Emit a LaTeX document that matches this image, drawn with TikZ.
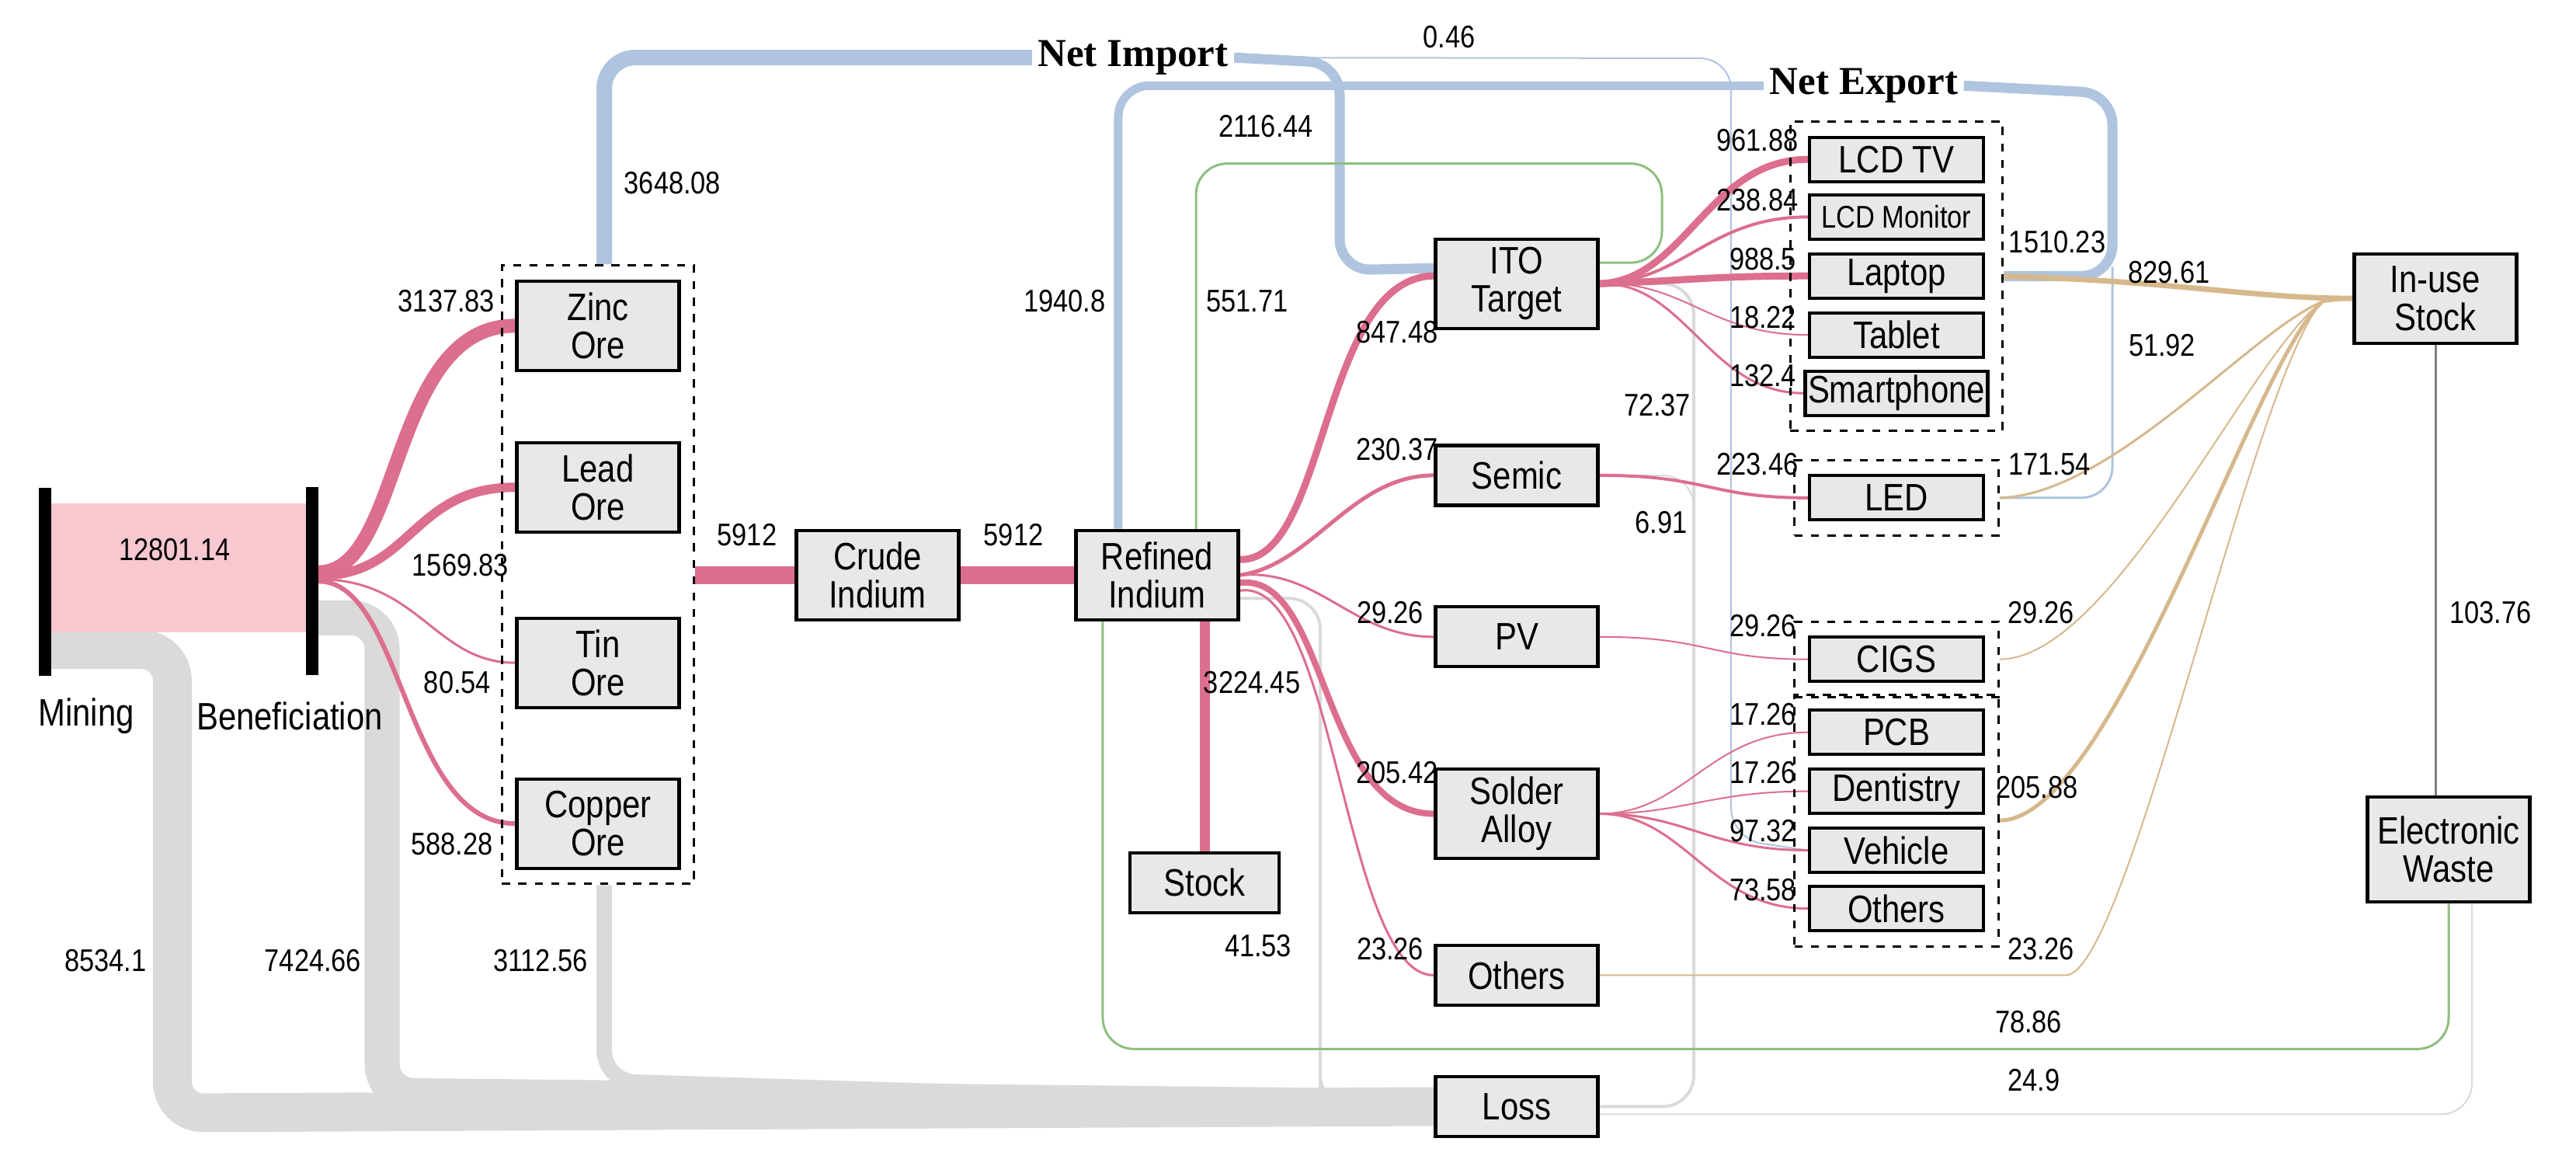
\documentclass[tikz,border=0pt]{standalone}
\usepackage{fontspec}
\setmainfont{Liberation Sans}[FakeStretch=0.85]
\newfontfamily\titlefont{Liberation Serif}
\usetikzlibrary{fit,backgrounds}
\definecolor{pk}{HTML}{DC6E8E}
\definecolor{pkfill}{HTML}{F7C8D0}
\definecolor{bl}{HTML}{AFC4DE}
\definecolor{gn}{HTML}{8DBF7F}
\definecolor{tn}{HTML}{D6B88C}
\definecolor{ls}{HTML}{DADADA}
\definecolor{boxgray}{HTML}{E8E8E8}
\tikzset{
  box/.style={draw, line width=1.2pt, fill=boxgray, minimum width=2.09cm, minimum height=0.77cm, align=center, font=\fontsize{14}{14}\selectfont, inner sep=1pt},
  ore/.style={box, minimum height=1.15cm},
  prod/.style={box, minimum width=2.24cm, minimum height=0.57cm},
  grp/.style={draw, dashed, line width=0.9pt, inner xsep=0.17cm, inner ysep=0.18cm},
  bar/.style={fill=black, minimum width=0.15cm, minimum height=2.42cm, inner sep=0pt},
  num/.style={font=\fontsize{11.5}{12}\selectfont, inner sep=1pt},
  lbl/.style={font=\fontsize{14}{15}\selectfont},
  ttl/.style={font=\titlefont\bfseries\fontsize{14.5}{15}\selectfont, inner sep=2pt},
  pflow/.style={draw=pk},
  bflow/.style={draw=bl, rounded corners=0.4cm},
  gflow/.style={draw=gn, line width=0.03cm, rounded corners=0.4cm},
  tflow/.style={draw=tn},
  lflow/.style={draw=ls, rounded corners=0.4cm}
}
\begin{document}
\begin{tikzpicture}[x=0.01cm, y=-0.00904cm]
  \useasboundingbox (0,0) rectangle (3317,1660);

  % stages
  \node[bar] (mine) at (58,829) {};
  \node[bar] (bene) at (402,828) {};
  \node[lbl] (minelbl) at (111,1020) {Mining};
  \node[lbl] (benelbl) at (373,1020) {Beneficiation};

  \node[ore] (zinc) at (770,464) {Zinc\\Ore};
  \node[ore] (lead) at (770,694) {Lead\\Ore};
  \node[ore] (tin) at (770,944) {Tin\\Ore};
  \node[ore] (copper) at (770,1173) {Copper\\Ore};
  \node[grp, fit=(zinc)(copper)] (ogrp) {};

  \node[ore] (crude) at (1130,819) {Crude\\Indium};
  \node[ore] (refined) at (1490,819) {Refined\\Indium};
  \node[box, minimum width=1.92cm] (stock) at (1551,1257) {Stock};

  \node[ore] (ito) at (1953,404) {ITO\\Target};
  \node[box] (semic) at (1953,677) {Semic};
  \node[box] (pv) at (1953,907) {PV};
  \node[ore] (solder) at (1953,1159) {Solder\\Alloy};
  \node[box] (oth) at (1953,1389) {Others};
  \node[box] (loss) at (1953,1576) {Loss};

  \node[prod] (lcdtv) at (2442,227) {LCD TV};
  \node[prod, font=\fontsize{11.5}{12}\selectfont] (lcdmon) at (2442,309) {LCD Monitor};
  \node[prod] (laptop) at (2442,393) {Laptop};
  \node[prod] (tablet) at (2442,477) {Tablet};
  \node[prod] (phone) at (2442,560) {Smartphone};
  \node[grp, fit=(lcdtv)(phone)] (pgrp) {};
  \node[prod] (led) at (2442,709) {LED};
  \node[grp, fit=(led)] (lgrp) {};
  \node[prod] (cigs) at (2442,939) {CIGS};
  \node[grp, fit=(cigs)] (cgrp) {};
  \node[prod] (pcb) at (2442,1043) {PCB};
  \node[prod] (dent) at (2442,1127) {Dentistry};
  \node[prod] (vehicle) at (2442,1211) {Vehicle};
  \node[prod] (prodoth) at (2442,1294) {Others};
  \node[grp, fit=(pcb)(prodoth)] (sgrp) {};

  \node[ore] (inuse) at (3136,425) {In-use\\Stock};
  \node[ore, minimum height=1.35cm] (ewaste) at (3153,1210) {Electronic\\Waste};

  \node[ttl, fill=white] (netimp) at (1459,82) {Net Import};
  \node[ttl, fill=white] (netexp) at (2400,122) {Net Export};

  \coordinate (xbend) at (2720,380);
  \coordinate (gturn) at (2140,233);
  \coordinate (gbot) at (2000,1494);
  \coordinate (rl) at (1700,1555);
  \coordinate (il) at (2181,1480);
  \coordinate (tj) at (2990,430);

  \begin{scope}[on background layer]
    % losses
    \draw[lflow, line width=0.5cm] (mine.east |- 0,925) -- (222,925) -- (222,1585) -- (loss.west);
    \draw[lflow, line width=0.45cm] (bene.east |- 0,880) -- (492,880) -- (492,1560) -- (loss.west);
    \draw[lflow, line width=0.2cm] ([xshift=0.08cm]ogrp.south) -- (778,1540) -- (loss.west);
    \draw[lflow, line width=0.04cm] ([yshift=-3mm]refined.east) -| (rl) |- (loss.west);
    \draw[lflow, line width=0.04cm] (ito.east) -| (il) |- (loss.east);
    \draw[lflow, line width=0.02cm] (semic.east) -| (il);
    \draw[lflow, line width=0.02cm] ([xshift=3mm]ewaste.south) |- ([yshift=-1mm]loss.east);
    \draw[draw=gray, line width=0.03cm] (inuse.south) -- (inuse.south |- ewaste.north);
    % trade
    \draw[bflow, line width=0.2cm] ([xshift=0.08cm]ogrp.north) |- (netimp.west);
    \draw[bflow, line width=0.13cm] (netimp.east) -- (1725,90) -- (1725,385) -- ([yshift=0.2cm]ito.west);
    \draw[bflow, line width=0.02cm] (netimp.east) -- (2229,83) -- (2229,1195) -- (vehicle.west);
    \draw[bflow, line width=0.11cm] ([xshift=-5mm]refined.north) |- (netexp.west);
    \draw[bflow, line width=0.13cm] (netexp.east) -- (2720,133) -- (2720,393) -- (pgrp.east);
    \draw[bflow, line width=0.03cm] (xbend) |- (lgrp.east);
    % recycling
    \draw[gflow] ([xshift=5mm]refined.north) |- (gturn) |- ([yshift=0.27cm]ito.east);
    \draw[gflow] (ewaste.south) |- (gbot) -| ([xshift=-7mm]refined.south);
    % mining chain
    \fill[pkfill] (mine.east |- 0,717) rectangle (bene.west |- 0,901);
    \draw[pflow, line width=0.18cm] (bene.east |- 0,815) .. controls (520,815) and (500,464) .. (zinc.west);
    \draw[pflow, line width=0.12cm] (bene.east |- 0,820) .. controls (530,820) and (530,694) .. (lead.west);
    \draw[pflow, line width=0.03cm] (bene.east |- 0,825) .. controls (540,825) and (560,944) .. (tin.west);
    \draw[pflow, line width=0.06cm] (bene.east |- 0,828) .. controls (520,828) and (520,1173) .. (copper.west);
    \draw[pflow, line width=0.23cm] (ogrp.east |- crude.west) -- (crude.west);
    \draw[pflow, line width=0.23cm] (crude.east) -- (refined.west);
    \draw[pflow, line width=0.13cm] (stock.north |- refined.south) -- (stock.north);
    % refined indium to uses
    \draw[pflow, line width=0.09cm] ([yshift=2mm]refined.east) .. controls (1710,800) and (1700,395) .. ([yshift=0.1cm]ito.west);
    \draw[pflow, line width=0.05cm] (refined.east) .. controls (1690,805) and (1740,677) .. (semic.west);
    \draw[pflow, line width=0.03cm] (refined.east) .. controls (1700,810) and (1740,907) .. (pv.west);
    \draw[pflow, line width=0.08cm] ([yshift=-1mm]refined.east) .. controls (1710,815) and (1700,1159) .. (solder.west);
    \draw[pflow, line width=0.03cm] ([yshift=-2mm]refined.east) .. controls (1720,820) and (1730,1389) .. (oth.west);
    % ITO target to products
    \draw[pflow, line width=0.09cm] (ito.east) .. controls (2170,400) and (2200,227) .. (lcdtv.west);
    \draw[pflow, line width=0.04cm] (ito.east) .. controls (2170,400) and (2200,309) .. (lcdmon.west);
    \draw[pflow, line width=0.09cm] (ito.east) .. controls (2170,400) and (2200,393) .. (laptop.west);
    \draw[pflow, line width=0.02cm] (ito.east) .. controls (2170,400) and (2200,477) .. (tablet.west);
    \draw[pflow, line width=0.03cm] (ito.east) .. controls (2170,400) and (2200,560) .. (phone.west);
    \draw[pflow, line width=0.04cm] (semic.east) .. controls (2200,677) and (2200,709) .. (led.west);
    \draw[pflow, line width=0.02cm] (pv.east) .. controls (2200,907) and (2200,939) .. (cigs.west);
    \draw[pflow, line width=0.02cm] (solder.east) .. controls (2170,1159) and (2200,1043) .. (pcb.west);
    \draw[pflow, line width=0.02cm] (solder.east) .. controls (2170,1159) and (2200,1127) .. (dent.west);
    \draw[pflow, line width=0.03cm] (solder.east) .. controls (2170,1159) and (2200,1211) .. (vehicle.west);
    \draw[pflow, line width=0.03cm] (solder.east) .. controls (2170,1159) and (2200,1294) .. (prodoth.west);
    % products to in-use stock
    \draw[tflow, line width=0.07cm] (pgrp.east) .. controls (2800,400) and (2900,425) .. (inuse.west);
    \draw[tflow, line width=0.03cm] (lgrp.east) .. controls (2720,705) and (2900,470) .. (tj) -- (inuse.west);
    \draw[tflow, line width=0.02cm] (cgrp.east) .. controls (2720,939) and (2900,500) .. (tj);
    \draw[tflow, line width=0.05cm] (sgrp.east) .. controls (2720,1169) and (2900,520) .. (tj);
    \draw[tflow, line width=0.02cm] (oth.east) -- (2660,1389) .. controls (2740,1389) and (2900,540) .. (tj);
  \end{scope}

  % values
  \node[num] (v1) at (225,783) {12801.14};
  \node[num] (v2) at (575,429) {3137.83};
  \node[num] (v3) at (593,805) {1569.83};
  \node[num] (v4) at (589,972) {80.54};
  \node[num] (v5) at (582,1202) {588.28};
  \node[num] (v6) at (866,261) {3648.08};
  \node[num] (v7) at (962,762) {5912};
  \node[num] (v8) at (1305,762) {5912};
  \node[num] (v9) at (1371,429) {1940.8};
  \node[num] (v10) at (1606,429) {551.71};
  \node[num] (v11) at (1630,180) {2116.44};
  \node[num] (v12) at (1612,972) {3224.45};
  \node[num] (v13) at (1620,1347) {41.53};
  \node[num] (v14) at (136,1368) {8534.1};
  \node[num] (v15) at (403,1368) {7424.66};
  \node[num] (v16) at (696,1368) {3112.56};
  \node[num] (v17) at (1866,53) {0.46};
  \node[num] (v18) at (1799,473) {847.48};
  \node[num] (v19) at (1799,640) {230.37};
  \node[num] (v20) at (1790,872) {29.26};
  \node[num] (v21) at (1799,1100) {205.42};
  \node[num] (v22) at (1790,1352) {23.26};
  \node[num] (v23) at (2263,200) {961.88};
  \node[num] (v24) at (2263,285) {238.84};
  \node[num] (v25) at (2270,369) {988.5};
  \node[num] (v26) at (2270,452) {18.22};
  \node[num] (v27) at (2270,535) {132.4};
  \node[num] (v28) at (2263,661) {223.46};
  \node[num] (v29) at (2270,891) {29.26};
  \node[num] (v30) at (2270,1017) {17.26};
  \node[num] (v31) at (2270,1100) {17.26};
  \node[num] (v32) at (2270,1183) {97.32};
  \node[num] (v33) at (2270,1267) {73.58};
  \node[num] (v34) at (2134,577) {72.37};
  \node[num] (v35) at (2139,744) {6.91};
  \node[num] (v36) at (2649,345) {1510.23};
  \node[num] (v37) at (2793,388) {829.61};
  \node[num] (v38) at (2784,492) {51.92};
  \node[num] (v39) at (2639,661) {171.54};
  \node[num] (v40) at (2628,872) {29.26};
  \node[num] (v41) at (2623,1121) {205.88};
  \node[num] (v42) at (2628,1352) {23.26};
  \node[num] (v43) at (3207,872) {103.76};
  \node[num] (v44) at (2612,1456) {78.86};
  \node[num] (v45) at (2619,1539) {24.9};
\end{tikzpicture}
\end{document}
